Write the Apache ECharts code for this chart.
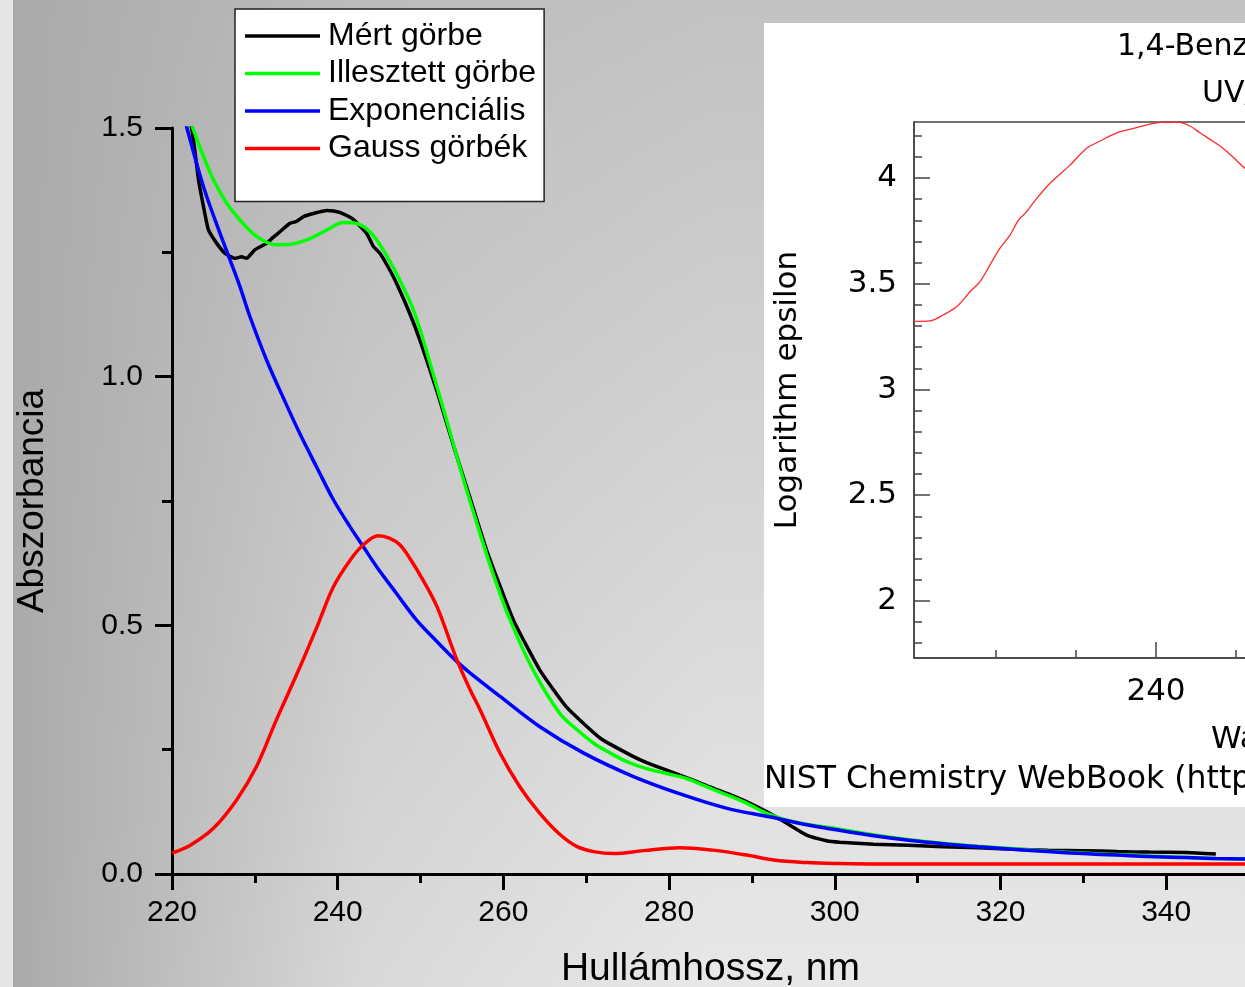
<!DOCTYPE html>
<html>
<head>
<meta charset="utf-8">
<script src="https://cdn.jsdelivr.net/npm/echarts@6/dist/echarts.min.js"></script>
<style>
html, body { margin: 0; padding: 0; background: #fff; }
#chart { width: 1245px; height: 987px; }
</style>
</head>
<body>
<div id="chart"></div>
<script>
// ---- Main plot: absorbance spectrum and its decomposition ----
const measuredNm = [220.5, 221.5, 222.4, 222.8, 223.2, 223.8, 224.4, 225.4, 226.4, 227.6, 228.4, 229.0, 230.0, 231.4, 232.2, 233.0, 234.2, 235.0, 235.9, 236.6, 237.5, 238.7, 239.5, 240.3, 241.1, 241.9, 243.5, 244.3, 245.1, 246.1, 247.1, 248.7, 250.0, 252.0, 254.0, 256.0, 258.0, 261.2, 264.4, 267.6, 271.7, 275.7, 277.3, 279.7, 282.1, 284.6, 287.0, 289.4, 291.8, 294.2, 296.6, 299.0, 300.6, 304.7, 308.9, 313.0, 317.3, 321.5, 325.7, 330.0, 334.1, 338.0, 342.5, 346.0];
const measuredAbs = [1.62, 1.56, 1.496, 1.449, 1.396, 1.342, 1.295, 1.268, 1.248, 1.238, 1.241, 1.238, 1.255, 1.268, 1.280, 1.291, 1.308, 1.312, 1.322, 1.326, 1.330, 1.334, 1.333, 1.330, 1.324, 1.316, 1.288, 1.262, 1.248, 1.220, 1.188, 1.127, 1.070, 0.970, 0.860, 0.755, 0.650, 0.511, 0.410, 0.336, 0.273, 0.236, 0.224, 0.209, 0.194, 0.177, 0.162, 0.145, 0.125, 0.102, 0.078, 0.067, 0.064, 0.060, 0.058, 0.055, 0.053, 0.050, 0.048, 0.047, 0.045, 0.044, 0.043, 0.040];

const fittedNm = [220, 221, 222.6, 223.8, 225.0, 226.6, 228.2, 230.2, 232.6, 234.6, 236.7, 238.7, 240.7, 242.3, 243.9, 245.5, 247.5, 249.3, 251.5, 253.6, 255.2, 256.8, 258.6, 260.8, 263.6, 266.8, 268.9, 270.9, 272.9, 274.9, 277.3, 279.7, 282.1, 284.6, 287.0, 289.4, 291.8, 295.0, 300.6, 305, 309, 313, 317.3, 321.5, 325.7, 330, 334.1, 338, 342.5, 346, 350];
const fittedAbs = [1.63, 1.57, 1.496, 1.443, 1.396, 1.349, 1.315, 1.282, 1.265, 1.267, 1.278, 1.295, 1.310, 1.308, 1.291, 1.255, 1.194, 1.127, 1.007, 0.886, 0.792, 0.705, 0.611, 0.511, 0.410, 0.323, 0.290, 0.263, 0.243, 0.226, 0.212, 0.202, 0.192, 0.175, 0.159, 0.142, 0.122, 0.105, 0.090, 0.078, 0.069, 0.062, 0.056, 0.051, 0.046, 0.042, 0.039, 0.036, 0.033, 0.031, 0.030];

const expNm = [220, 221.8, 223.8, 225.8, 227.0, 228.2, 229.4, 231.5, 233.5, 235.5, 237.5, 239.5, 241.5, 243.1, 244.7, 247.1, 249.5, 252.0, 254.4, 256.0, 259.6, 264.4, 269.7, 275.7, 281.7, 287.0, 292.1, 296.3, 300.5, 304.7, 308.9, 313, 317.3, 321.5, 325.7, 330, 334.1, 338, 342.5, 346, 350];
const expAbs = [1.61, 1.5, 1.382, 1.288, 1.235, 1.181, 1.121, 1.03, 0.955, 0.883, 0.817, 0.752, 0.698, 0.658, 0.618, 0.564, 0.511, 0.467, 0.427, 0.404, 0.357, 0.296, 0.243, 0.196, 0.159, 0.132, 0.115, 0.100, 0.088, 0.077, 0.068, 0.061, 0.055, 0.050, 0.045, 0.041, 0.038, 0.035, 0.033, 0.031, 0.030];

const gaussNm = [220, 222.2, 225.0, 227.8, 230.2, 232.6, 235.1, 237.5, 239.5, 241.5, 243.1, 244.9, 246.3, 247.5, 248.7, 250.3, 252.0, 254.4, 256.0, 257.2, 259.6, 262.0, 264.4, 266.8, 268.9, 270.9, 273.3, 276.9, 281.3, 285.3, 289.4, 292.6, 296.6, 300.6, 305, 310, 320, 330, 340, 350];
const gaussAbs = [0.042, 0.058, 0.092, 0.149, 0.216, 0.310, 0.403, 0.497, 0.578, 0.631, 0.662, 0.680, 0.675, 0.662, 0.635, 0.591, 0.537, 0.430, 0.370, 0.330, 0.243, 0.175, 0.122, 0.080, 0.055, 0.045, 0.041, 0.047, 0.053, 0.048, 0.038, 0.028, 0.023, 0.021, 0.020, 0.020, 0.020, 0.020, 0.020, 0.020];

const seriesNames = ['Mért görbe', 'Illesztett görbe', 'Exponenciális', 'Gauss görbék'];
const seriesColors = ['#000000', '#00ff00', '#0000ff', '#ff0000'];

// ---- Inset: reference spectrum (log epsilon) ----
const refNm = [209.75, 211.75, 213.4, 215.1, 216.75, 218.0, 219.25, 220.5, 221.75, 222.8, 223.8, 225.1, 226.75, 229.25, 231.3, 232.6, 235.1, 237.2, 239.25, 240.5, 241.75, 243.0, 244.25, 245.5, 247.2, 248.4, 249.65, 251.1, 252.5];
const refLogEps = [3.322, 3.324, 3.352, 3.392, 3.462, 3.51, 3.589, 3.668, 3.73, 3.80, 3.84, 3.904, 3.975, 4.061, 4.14, 4.167, 4.214, 4.235, 4.255, 4.263, 4.265, 4.263, 4.246, 4.214, 4.172, 4.14, 4.098, 4.046, 4.0];
const insetYLabels = [2, 2.5, 3, 3.5, 4];
const insetYMinor = [1.8, 1.9, 2.1, 2.2, 2.3, 2.4, 2.6, 2.7, 2.8, 2.9, 3.1, 3.2, 3.3, 3.4, 3.6, 3.7, 3.8, 3.9, 4.1, 4.2];
const insetXLabels = [240];
const insetXMinor = [220, 230, 250, 260, 270, 280];

const pairs = (xs, ys) => xs.map((x, i) => [x, ys[i]]);

const MAIN_FONT = "'Liberation Sans', Arial, sans-serif";
const INSET_FONT = "'DejaVu Sans', Verdana, sans-serif";

const chart = echarts.init(document.getElementById('chart'), null, { renderer: 'canvas' });

const mainSeries = [measuredNm, fittedNm, expNm, gaussNm].map((xs, k) => ({
  name: seriesNames[k],
  type: 'line',
  xAxisIndex: 0,
  yAxisIndex: 0,
  data: pairs(xs, [measuredAbs, fittedAbs, expAbs, gaussAbs][k]),
  showSymbol: false,
  symbol: 'none',
  smooth: k === 0 ? 0.15 : 0.35,
  clip: true,
  lineStyle: { color: seriesColors[k], width: 3.5 },
  itemStyle: { color: seriesColors[k] },
  z: 3 + k,
  silent: true,
  animation: false
}));

const option = {
  animation: false,
  backgroundColor: '#ffffff',
  graphic: [
    {
      type: 'rect', z: -20, silent: true,
      shape: { x: 0, y: 0, width: 1245, height: 987 },
      style: {
        fill: new echarts.graphic.LinearGradient(0, 0, 0, 1, [
          { offset: 0, color: '#c2c2c2' },
          { offset: 1, color: '#e8e8e8' }
        ])
      }
    },
    {
      type: 'rect', z: -19, silent: true,
      shape: { x: 13, y: 0, width: 700, height: 987 },
      style: {
        fill: new echarts.graphic.LinearGradient(0, 0, 1, 0, [
          { offset: 0, color: 'rgba(170,170,170,1)' },
          { offset: 0.5, color: 'rgba(170,170,170,0.25)' },
          { offset: 1, color: 'rgba(170,170,170,0)' }
        ])
      }
    },
    {
      type: 'rect', z: -18, silent: true,
      shape: { x: 0, y: 0, width: 13, height: 987 },
      style: { fill: '#e6e6e6' }
    },
    {
      type: 'rect', z: -10, silent: true,
      shape: { x: 764, y: 23, width: 500, height: 784 },
      style: { fill: '#ffffff' }
    },
    {
      type: 'text', z: 5, silent: true,
      style: { x: 1117, y: 47, text: '1,4-Benzoquinone', font: '30px ' + INSET_FONT, fill: '#000', textAlign: 'left', textVerticalAlign: 'middle' }
    },
    {
      type: 'text', z: 5, silent: true,
      style: { x: 1202, y: 94, text: 'UV/Visible spectrum', font: '30px ' + INSET_FONT, fill: '#000', textAlign: 'left', textVerticalAlign: 'middle' }
    },
    {
      type: 'text', z: 5, silent: true,
      style: { x: 1211, y: 740, text: 'Wavelength (nm)', font: '31px ' + INSET_FONT, fill: '#000', textAlign: 'left', textVerticalAlign: 'middle' }
    },
    {
      type: 'text', z: 5, silent: true,
      style: { x: 764, y: 780, text: 'NIST Chemistry WebBook (http://webbook.nist.gov/chemistry)', font: '31.5px ' + INSET_FONT, fill: '#000', textAlign: 'left', textVerticalAlign: 'middle' }
    }
  ],
  legend: {
    data: seriesNames,
    orient: 'vertical',
    left: 235,
    top: 9,
    backgroundColor: '#ffffff',
    borderColor: '#222222',
    borderWidth: 1.5,
    borderRadius: 0,
    padding: [11, 8, 37, 10],
    itemWidth: 75,
    itemHeight: 3.5,
    itemGap: 5.5,
    icon: 'rect',
    selectedMode: false,
    textStyle: { fontSize: 32, fontFamily: MAIN_FONT, color: '#000', lineHeight: 32, padding: [0, 0, 0, 3] }
  },
  grid: [
    { left: 172, top: 128, width: 1077, height: 746, containLabel: false, outerBoundsMode: 'none' },
    { left: 914, top: 122, width: 642, height: 536, containLabel: false, outerBoundsMode: 'none', show: true, borderColor: '#444', borderWidth: 1.5, backgroundColor: 'transparent', z: 1 }
  ],
  xAxis: [
    {
      type: 'value', gridIndex: 0, min: 220, max: 350, interval: 20,
      name: 'Hullámhossz, nm', nameLocation: 'middle', nameGap: 76,
      nameTextStyle: { fontSize: 39, fontFamily: MAIN_FONT, color: '#000' },
      axisLine: { show: true, onZero: false, lineStyle: { color: '#000', width: 3 } },
      axisTick: { show: true, length: 16, lineStyle: { color: '#000', width: 3 } },
      minorTick: { show: true, splitNumber: 2, length: 9, lineStyle: { color: '#000', width: 3 } },
      axisLabel: { fontSize: 30, fontFamily: MAIN_FONT, color: '#000', margin: 24, showMaxLabel: false },
      splitLine: { show: false }
    },
    {
      type: 'value', gridIndex: 1, min: 209.75, max: 290,
      axisLine: { show: true, onZero: false, lineStyle: { color: '#444', width: 1.5 } },
      axisTick: { show: true, inside: true, length: 16, customValues: insetXLabels, lineStyle: { color: '#444', width: 1.5 } },
      axisLabel: { fontSize: 31, fontFamily: INSET_FONT, color: '#000', margin: 18, customValues: insetXLabels },
      splitLine: { show: false }
    },
    {
      type: 'value', gridIndex: 1, min: 209.75, max: 290, position: 'bottom', offset: 0,
      axisLine: { show: false },
      axisTick: { show: true, inside: true, length: 8, customValues: insetXMinor, lineStyle: { color: '#444', width: 1.5 } },
      axisLabel: { show: false },
      splitLine: { show: false }
    }
  ],
  yAxis: [
    {
      type: 'value', gridIndex: 0, min: 0, max: 1.5, interval: 0.5,
      name: 'Abszorbancia', nameLocation: 'middle', nameGap: 121, nameRotate: 90,
      nameTextStyle: { fontSize: 37, fontFamily: MAIN_FONT, color: '#000' },
      axisLine: { show: true, onZero: false, lineStyle: { color: '#000', width: 3 } },
      axisTick: { show: true, length: 17, lineStyle: { color: '#000', width: 3 } },
      minorTick: { show: true, splitNumber: 2, length: 10, lineStyle: { color: '#000', width: 3 } },
      axisLabel: { fontSize: 30, fontFamily: MAIN_FONT, color: '#000', margin: 29, formatter: v => v.toFixed(1) },
      splitLine: { show: false }
    },
    {
      type: 'value', gridIndex: 1, min: 1.73, max: 4.265,
      name: 'Logarithm epsilon', nameLocation: 'middle', nameGap: 111, nameRotate: 90,
      nameTextStyle: { fontSize: 31, fontFamily: INSET_FONT, color: '#000' },
      axisLine: { show: true, onZero: false, lineStyle: { color: '#444', width: 1.5 } },
      axisTick: { show: true, inside: true, length: 16, customValues: insetYLabels, lineStyle: { color: '#444', width: 1.5 } },
      axisLabel: { fontSize: 31, fontFamily: INSET_FONT, color: '#000', margin: 17, customValues: insetYLabels, formatter: v => String(v) },
      splitLine: { show: false }
    },
    {
      type: 'value', gridIndex: 1, min: 1.73, max: 4.265, position: 'left', offset: 0,
      axisLine: { show: false },
      axisTick: { show: true, inside: true, length: 8, customValues: insetYMinor, lineStyle: { color: '#444', width: 1.5 } },
      axisLabel: { show: false },
      splitLine: { show: false }
    }
  ],
  series: mainSeries.concat([
    {
      name: 'log ε',
      type: 'line',
      xAxisIndex: 1,
      yAxisIndex: 1,
      data: pairs(refNm, refLogEps),
      showSymbol: false,
      symbol: 'none',
      smooth: 0.3,
      clip: true,
      lineStyle: { color: '#ff2a2a', width: 1.3 },
      z: 3,
      silent: true
    }
  ])
};

chart.setOption(option);
</script>
</body>
</html>
